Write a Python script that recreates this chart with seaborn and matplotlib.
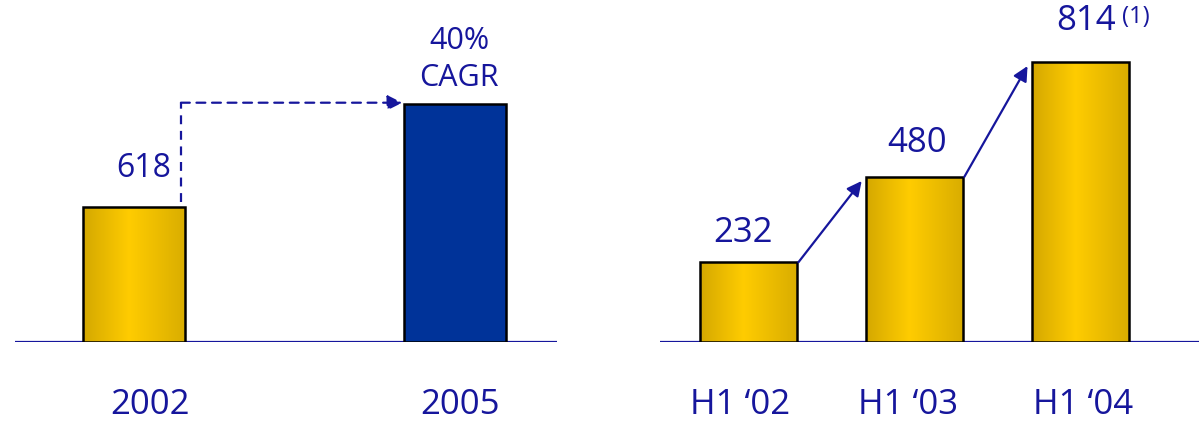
import numpy as np
import pandas as pd
import matplotlib
matplotlib.use("Agg")
import matplotlib.pyplot as plt
from matplotlib.colors import LinearSegmentedColormap
from matplotlib.transforms import ScaledTranslation
import seaborn as sns

# Annual view
years = ["2002", "2005"]
annual_values = [618, 1090]
annual_labels = ["618", None]
cagr_text = "40%\nCAGR"

# Half-year view
halves = ["H1 \u201802", "H1 \u201803", "H1 \u201804"]
half_values = [232, 480, 814]
half_labels = ["232", "480", "814"]
footnote = "(1)"

NAVY = "#16169c"
BLUE = "#003399"
GOLD = "#f2c200"

sns.set_theme(style="white")
plt.rcParams["font.family"] = ["Open Sans", "DejaVu Sans"]

gold_cmap = LinearSegmentedColormap.from_list(
    "gold", [(0.0, "#d4a800"), (0.45, "#ffcc00"), (1.0, "#d9ad00")]
)

W, H = 1199, 423
fig = plt.figure(figsize=(W / 100, H / 100), dpi=100)
ax1 = fig.add_axes([15 / W, 81 / H, 542 / W, 342 / H])
ax2 = fig.add_axes([660 / W, 81 / H, 539 / W, 342 / H])


def gradient_fill(ax, patch):
    x0, y0 = patch.get_x(), patch.get_y()
    w, h = patch.get_width(), patch.get_height()
    grad = np.linspace(0, 1, 256).reshape(1, -1)
    im = ax.imshow(grad, cmap=gold_cmap, aspect="auto",
                   extent=[x0, x0 + w, y0, y0 + h], zorder=2,
                   interpolation="bicubic")
    im.set_clip_path(patch)
    patch.set_facecolor("none")


def style_axes(ax, labels, xlim, ymax, shifts):
    ax.set_xlim(*xlim)
    ax.set_ylim(0, ymax)
    for s in ax.spines.values():
        s.set_visible(False)
    ax.set_yticks([])
    ax.set_ylabel("")
    ax.set_xlabel("")
    ax.set_xticks(range(len(labels)))
    ax.set_xticklabels(labels, fontsize=25, color=NAVY)
    ax.tick_params(axis="x", length=0, pad=33)
    for lab, dx in zip(ax.get_xticklabels(), shifts):
        lab.set_transform(lab.get_transform()
                          + ScaledTranslation(dx / 100, 0, fig.dpi_scale_trans))
    ax.axhline(0, color=NAVY, lw=1.6, zorder=1)
    ax.patch.set_alpha(0)


# ---- left panel: annual ----
df1 = pd.DataFrame({"period": years, "value": annual_values})
sns.barplot(data=df1, x="period", y="value", hue="period",
            palette=[GOLD, BLUE], saturation=1, width=0.318, legend=False,
            edgecolor="black", linewidth=1.8, ax=ax1, zorder=3)
bars1 = list(ax1.patches)
for p in bars1:
    p.set_zorder(3)
gradient_fill(ax1, bars1[0])
style_axes(ax1, years, (-0.371, 1.318), 1565, [16, 5])

b0, b1 = bars1
ax1.annotate(annual_labels[0], xy=(b0.get_x() + b0.get_width(), annual_values[0]),
             xytext=(-10, 16), textcoords="offset points", ha="right",
             va="bottom", fontsize=23, color=NAVY)
ax1.annotate(cagr_text, xy=(b1.get_x() + b1.get_width() / 2, annual_values[1]),
             xytext=(3, 8), textcoords="offset points", ha="center",
             va="bottom", fontsize=22, color=NAVY, linespacing=1.3)

# dashed growth path from the 2002 bar to the 2005 bar
x_up = b0.get_x() + b0.get_width() - 0.013
ax1.plot([x_up, x_up], [annual_values[0] + 22, annual_values[1] + 5],
         color=NAVY, lw=1.6, ls=(0, (4, 3)), zorder=4)
ax1.annotate("", xy=(b1.get_x() - 0.005, annual_values[1] + 5),
             xytext=(x_up, annual_values[1] + 5),
             arrowprops=dict(arrowstyle="-|>", color=NAVY, lw=1.6,
                             ls=(0, (4, 3)), mutation_scale=22,
                             shrinkA=0, shrinkB=0), zorder=4)

# ---- right panel: half-year ----
df2 = pd.DataFrame({"period": halves, "value": half_values})
sns.barplot(data=df2, x="period", y="value", hue="period",
            palette=[GOLD] * 3, saturation=1, width=0.584, legend=False,
            edgecolor="black", linewidth=1.8, ax=ax2, zorder=3)
bars2 = list(ax2.patches)
for p in bars2:
    p.set_zorder(3)
    gradient_fill(ax2, p)
style_axes(ax2, halves, (-0.533, 2.717), 994, [-8, -6, 3])

offsets = [(-4, 9), (2, 12), (4, 17)]
for p, v, lab, off in zip(bars2, half_values, half_labels, offsets):
    ax2.annotate(lab, xy=(p.get_x() + p.get_width() / 2, v),
                 xytext=off, textcoords="offset points", ha="center",
                 va="bottom", fontsize=25, color=NAVY, annotation_clip=False)
last = bars2[-1]
ax2.annotate(footnote, xy=(last.get_x() + last.get_width() / 2, half_values[-1]),
             xytext=(30, 24), textcoords="offset points", ha="left",
             va="bottom", fontsize=17, color=NAVY, annotation_clip=False)

# growth arrows between consecutive bars
for a, b, va, vb in zip(bars2[:-1], bars2[1:], half_values[:-1], half_values[1:]):
    ax2.annotate("", xy=(b.get_x() - 0.025, vb - 12),
                 xytext=(a.get_x() + a.get_width() + 0.01, va),
                 arrowprops=dict(arrowstyle="-|>", color=NAVY, lw=1.6,
                                 mutation_scale=22, shrinkA=0, shrinkB=0),
                 zorder=4)

fig.savefig("out.png", dpi=100)
